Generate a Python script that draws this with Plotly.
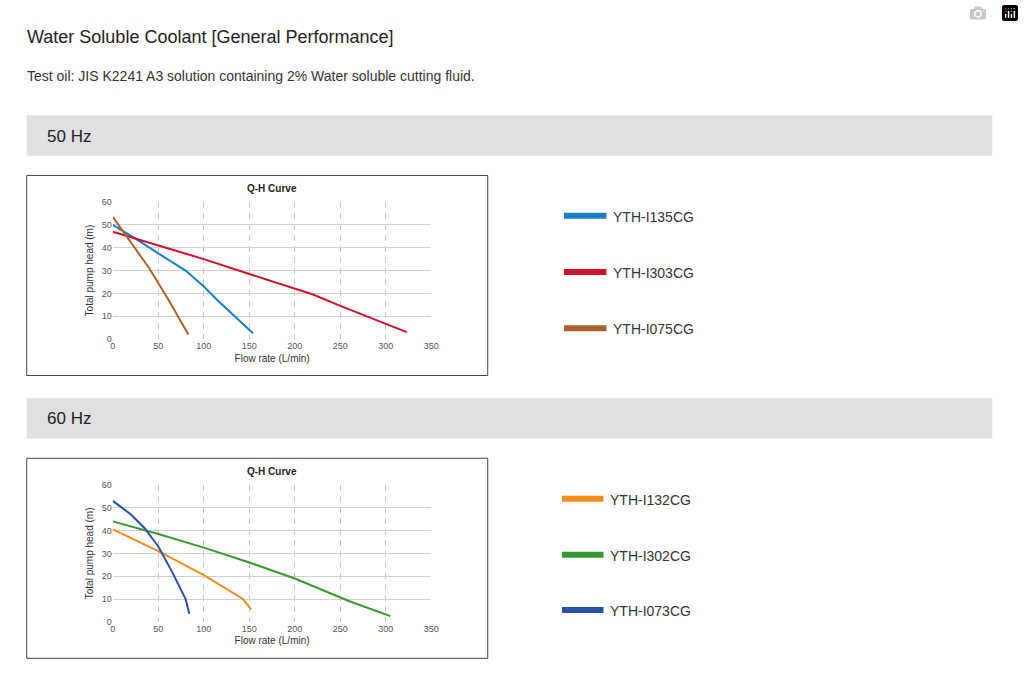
import plotly.graph_objects as go

W, H = 1024, 683
# 50 Hz data
i135_x = [0, 25, 50, 80, 100, 115, 154]
i135_y = [50, 44, 37.5, 30, 23, 17, 2.5]
i303_x = [0, 50, 100, 150, 200, 220, 250, 300, 323]
i303_y = [47, 41, 35, 28.5, 22, 19.5, 14.5, 6.5, 3]
i075_x = [0, 20, 40, 60, 83]
i075_y = [53.5, 42, 31, 18, 2]
# 60 Hz data
i132_x = [0, 50, 100, 143, 152]
i132_y = [40.5, 31, 20.5, 10, 5.5]
i302_x = [0, 50, 100, 150, 200, 260, 305]
i302_y = [44, 38.5, 32.5, 26, 19, 9, 2.5]
i073_x = [0, 20, 35, 50, 65, 80, 84]
i073_y = [53, 47, 41, 33, 22, 10, 3.5]

names50 = ["YTH-I135CG", "YTH-I303CG", "YTH-I075CG"]
names60 = ["YTH-I132CG", "YTH-I302CG", "YTH-I073CG"]
cols50 = ["#1b7ec2", "#d0102b", "#a9622c"]
cols60 = ["#f18c1d", "#3a962f", "#2a4fa7"]
x_ticks = [0, 50, 100, 150, 200, 250, 300, 350]
y_ticks = [0, 10, 20, 30, 40, 50, 60]

FONT = "Liberation Sans, Arial, sans-serif"
fig = go.Figure()
for xs, ys, c, n in zip([i135_x, i303_x, i075_x], [i135_y, i303_y, i075_y], cols50, names50):
    fig.add_trace(go.Scatter(x=xs, y=ys, mode="lines", line=dict(color=c, width=2), name=n, xaxis="x", yaxis="y"))
for xs, ys, c, n in zip([i132_x, i302_x, i073_x], [i132_y, i302_y, i073_y], cols60, names60):
    fig.add_trace(go.Scatter(x=xs, y=ys, mode="lines", line=dict(color=c, width=2), name=n, xaxis="x2", yaxis="y2"))

def px(x): return x / W
def py(y): return 1 - y / H

xa = dict(range=[0, 350], tickvals=x_ticks, showgrid=True, gridcolor="#c8c8c8", griddash="6px,5px",
          gridwidth=1, zeroline=False, showline=False, ticks="", tickfont=dict(size=9, color="#555", family=FONT),
          title=dict(text="Flow rate (L/min)", font=dict(size=10, color="#333", family=FONT), standoff=4),
          domain=[px(111), px(433)], fixedrange=True)
ya = dict(range=[0, 60], tickvals=y_ticks, showgrid=True, gridcolor="#d0d0d0", gridwidth=1, zeroline=False,
          showline=False, ticks="", tickfont=dict(size=9, color="#555", family=FONT),
          title=dict(text="Total pump head (m)", font=dict(size=10, color="#333", family=FONT), standoff=6),
          fixedrange=True)
fig.update_layout(
    width=W, height=H, margin=dict(l=0, r=0, t=0, b=0), showlegend=False,
    paper_bgcolor="white", plot_bgcolor="white", font=dict(family=FONT),
    xaxis=dict(xa, anchor="y"), yaxis=dict(ya, domain=[py(339), py(200)], anchor="x"),
    xaxis2=dict(xa, anchor="y2"), yaxis2=dict(ya, domain=[py(626), py(487)], anchor="x2"),
)

shapes, ann = [], []
def a(x, y, t, size, color="#222", bold=False, xanchor="left"):
    ann.append(dict(x=px(x), y=py(y), xref="paper", yref="paper", text=f"<b>{t}</b>" if bold else t,
                    showarrow=False, xanchor=xanchor, yanchor="middle", font=dict(size=size, color=color, family=FONT)))

a(22, 32, "Water Soluble Coolant [General Performance]", 18)
a(22, 72, "Test oil: JIS K2241 A3 solution containing 2% Water soluble cutting fluid.", 14, "#333")
for top, label in [(112, "50 Hz"), (399, "60 Hz")]:
    shapes.append(dict(type="rect", xref="paper", yref="paper", x0=px(24), x1=px(1000), y0=py(top + 41), y1=py(top),
                       fillcolor="#e0e0e0", line=dict(width=0), layer="below"))
    a(42, top + 21, label, 17)
for top in [173, 460]:
    shapes.append(dict(type="rect", xref="paper", yref="paper", x0=px(24), x1=px(490), y0=py(top + 203), y1=py(top),
                       line=dict(color="#444", width=1)))
    a(272, top + 13, "Q-H Curve", 10, "#222", bold=True, xanchor="center")

for names, cols, x0, x1, ys in [(names50, cols50, 567, 610, [214, 271, 328]), (names60, cols60, 565, 607, [501, 558, 614])]:
    for n, c, y in zip(names, cols, ys):
        shapes.append(dict(type="line", xref="paper", yref="paper", x0=px(x0), x1=px(x1), y0=py(y), y1=py(y),
                           line=dict(color=c, width=6)))
        a(x1 + 5, y + 1, n, 14, "#333")

fig.update_layout(shapes=shapes, annotations=ann)
fig.write_html("out.html")
with open("out.html", encoding="utf-8") as f:
    html = f.read()
html = html.replace("<head>", "<head><style>html,body{margin:0;padding:0;overflow:hidden}</style>", 1)
with open("out.html", "w", encoding="utf-8") as f:
    f.write(html)
